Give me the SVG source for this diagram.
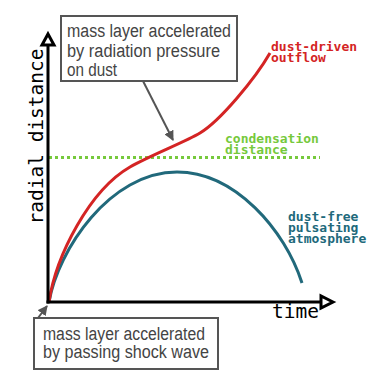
<svg xmlns="http://www.w3.org/2000/svg" width="374" height="374" viewBox="0 0 374 374">
  <style>
    .axis { stroke: #000; stroke-width: 3; fill: none; }
    .axhead { stroke: #000; stroke-width: 3; fill: #fff; stroke-linejoin: miter; }
    .axlabel { font-family: "DejaVu Sans Mono", "Liberation Mono", monospace; font-size: 19.5px; fill: #000; }
    .clabel { font-family: "DejaVu Sans Mono", "Liberation Mono", monospace; font-size: 13px; font-weight: bold; }
    .box { fill: #fff; stroke: #555; stroke-width: 2; }
    .note { font-family: "Liberation Sans", "DejaVu Sans", sans-serif; font-size: 18px; fill: #444; }
    .callout { stroke: #555; stroke-width: 2; fill: none; }
  </style>
  <defs>
    <marker id="ah" viewBox="0 0 10 10" refX="9" refY="5" markerWidth="5" markerHeight="5" orient="auto" markerUnits="strokeWidth">
      <path d="M0,0 L10,5 L0,10 z" fill="#555"/>
    </marker>
  </defs>

  <g id="curves">
    <line id="condensation-line" x1="49" y1="157.5" x2="320" y2="157.5" stroke="#76c93c" stroke-width="3" stroke-dasharray="3 3"/>
    <path id="teal-curve" d="M49,302 C58,250 110,172 177,172 C235,172 285,230 302,283" fill="none" stroke="#21697b" stroke-width="3"/>
    <path id="red-curve" d="M49,302 C56,255 90,190 130,167 C150,155.5 185,142 200,133 C220,121 255,79 270,53" fill="none" stroke="#d42424" stroke-width="3"/>
  </g>

  <g id="axes">
    <line class="axis" x1="48" y1="303.5" x2="48" y2="45"/>
    <line class="axis" x1="46.5" y1="302" x2="321" y2="302"/>
    <path class="axhead" d="M48,34 L54,45 L42,45 z"/>
    <path class="axhead" d="M333,302 L321,296 L321,308 z"/>
    <text class="axlabel" x="272" y="318">time</text>
    <text class="axlabel" transform="translate(43,136.5) rotate(-90)" text-anchor="middle">radial distance</text>
  </g>

  <g id="labels">
    <text class="clabel" fill="#d42424"><tspan x="271" y="51">dust-driven</tspan><tspan x="271" y="62">outflow</tspan></text>
    <text class="clabel" fill="#76c93c"><tspan x="225" y="143">condensation</tspan><tspan x="225" y="154">distance</tspan></text>
    <text class="clabel" fill="#21697b"><tspan x="288" y="221">dust-free</tspan><tspan x="288" y="232">pulsating</tspan><tspan x="288" y="243">atmosphere</tspan></text>
  </g>

  <g id="connectors">
    <line class="callout" x1="143" y1="81" x2="173" y2="140" marker-end="url(#ah)"/>
    <line class="callout" x1="38" y1="318" x2="47" y2="306" marker-end="url(#ah)"/>
  </g>

  <g id="note-top">
    <rect class="box" x="61" y="16" width="176" height="65"/>
    <text class="note" x="67" y="37" textLength="164" lengthAdjust="spacingAndGlyphs">mass layer accelerated</text>
    <text class="note" x="67" y="56.5" textLength="153" lengthAdjust="spacingAndGlyphs">by radiation pressure</text>
    <text class="note" x="67" y="76" textLength="50" lengthAdjust="spacingAndGlyphs">on dust</text>
  </g>

  <g id="note-bottom">
    <rect class="box" x="34" y="318" width="184" height="51"/>
    <text class="note" x="43" y="340" textLength="162" lengthAdjust="spacingAndGlyphs">mass layer accelerated</text>
    <text class="note" x="43" y="358" textLength="166" lengthAdjust="spacingAndGlyphs">by passing shock wave</text>
  </g>
</svg>
